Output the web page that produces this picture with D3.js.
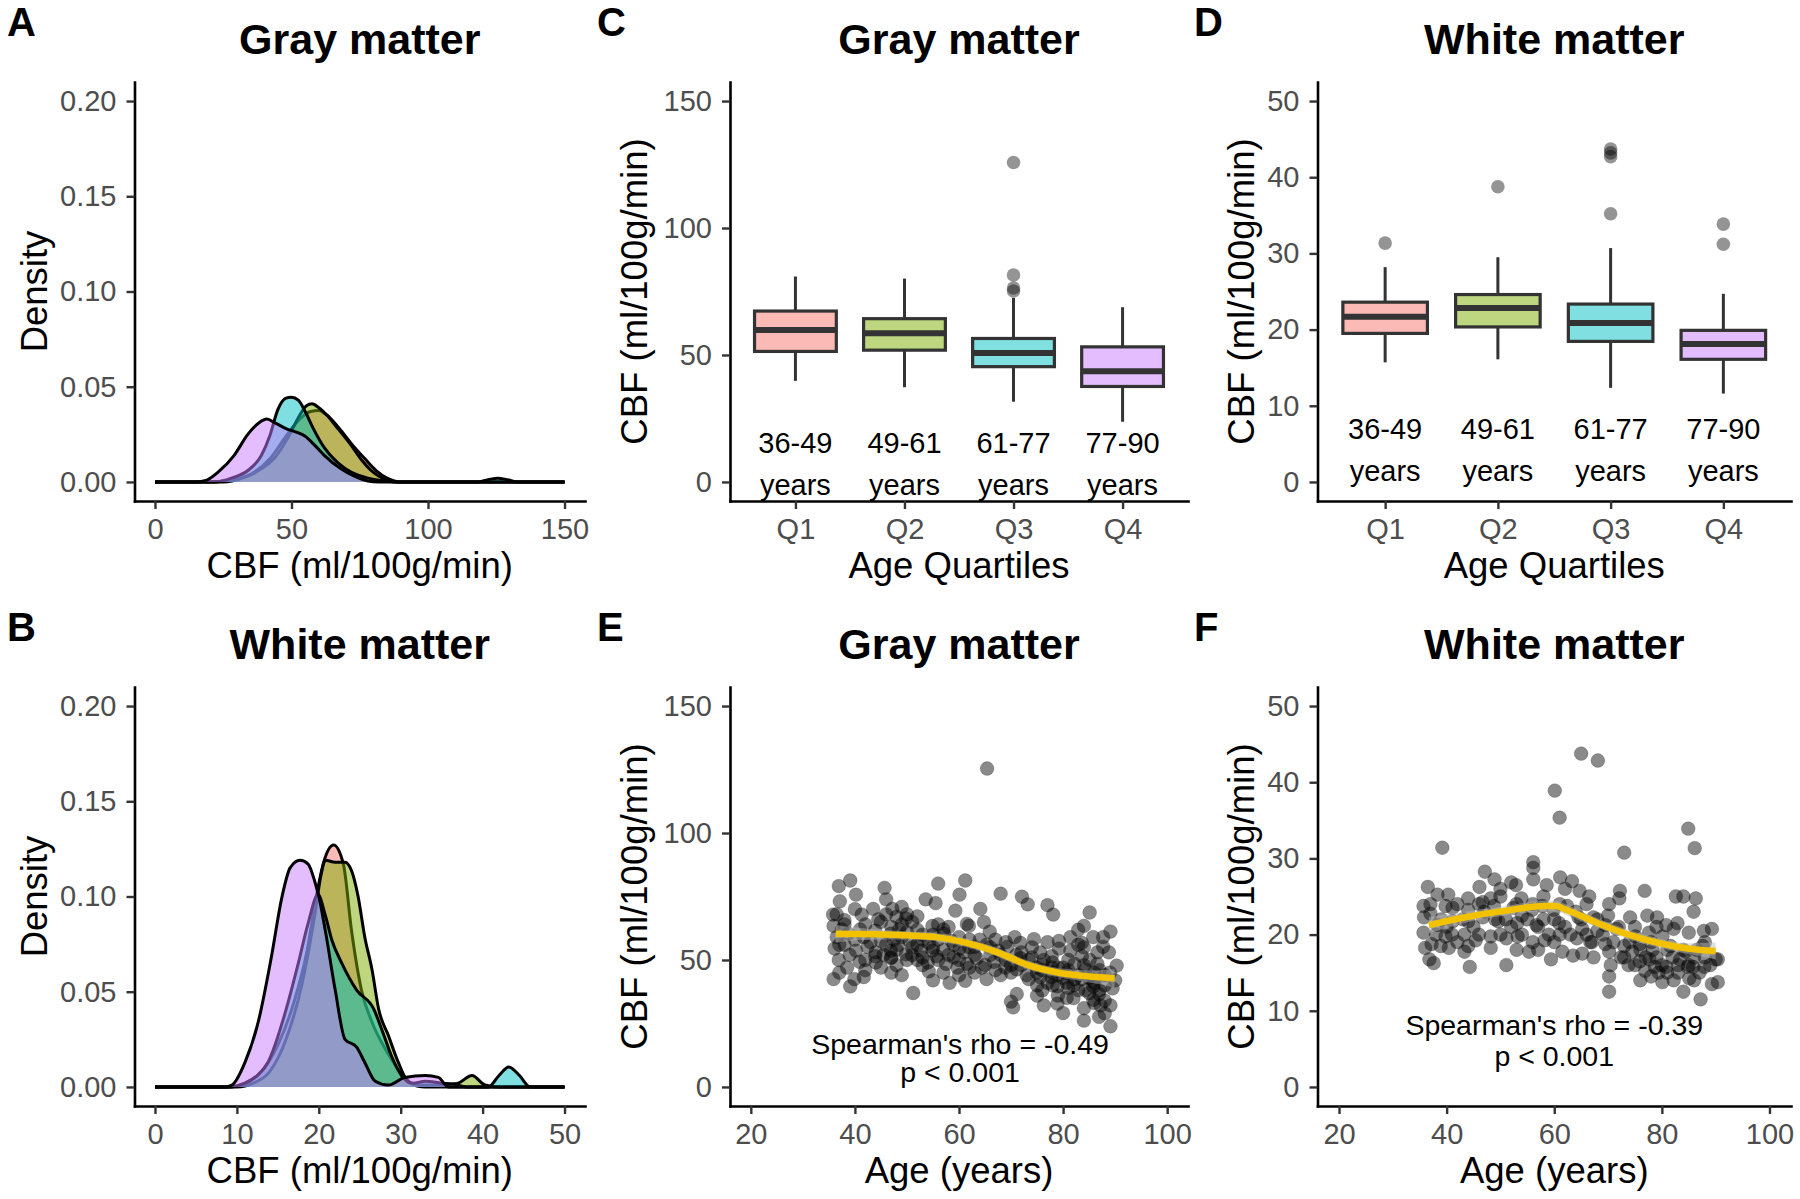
<!DOCTYPE html>
<html>
<head>
<meta charset="utf-8">
<script src="https://cdn.jsdelivr.net/npm/d3@7"></script>
<style>
body{margin:0;background:#fff}
svg{display:block}
text{font-family:"Liberation Sans",Arial,Helvetica,sans-serif}
</style>
</head>
<body>
<div id="fig"></div>
<script>
const groups = ["Q1", "Q2", "Q3", "Q4"]
const groupColors = ["#F8766D", "#7CAE00", "#00BFC4", "#C77CFF"]
const ageLabels = ["36-49", "49-61", "61-77", "77-90"]

// A: gray matter density, [CBF, density]
const gmDensQ1 = [[0,0],[20,0],[28,0.001],[35,0.004],[42,0.012],[48,0.024],[53,0.033],[57,0.037],[60,0.0375],[63,0.035],[67,0.029],[72,0.020],[77,0.012],[81,0.006],[85,0.002],[90,0],[150,0]]
const gmDensQ2 = [[0,0],[25,0],[32,0.002],[38,0.006],[44,0.013],[49,0.024],[53,0.035],[55.5,0.040],[57.5,0.041],[60,0.039],[63,0.035],[67,0.028],[72,0.019],[76,0.011],[80,0.005],[84,0.0015],[88,0],[150,0]]
const gmDensQ3 = [[0,0],[22,0],[28,0.002],[34,0.006],[39,0.014],[42,0.024],[45,0.038],[48,0.044],[50,0.0445],[52.5,0.043],[55,0.037],[58,0.028],[62,0.018],[67,0.010],[72,0.005],[78,0.002],[84,0.0005],[90,0],[118,0],[122,0.0012],[125.5,0.002],[129,0.0012],[133,0],[150,0]]
const gmDensQ4 = [[0,0],[15,0],[19,0.001],[23,0.005],[29,0.014],[34,0.025],[38,0.031],[41,0.033],[44,0.031],[48,0.028],[52,0.026],[55,0.024],[58,0.020],[62,0.014],[68,0.007],[73,0.003],[78,0.0005],[82,0],[150,0]]

// B: white matter density
const wmDensQ1 = [[0,0],[9,0],[11,0.002],[13,0.008],[15,0.022],[17,0.045],[18.5,0.070],[19.7,0.100],[20.6,0.118],[21.8,0.127],[23,0.117],[24,0.082],[25.2,0.051],[26.5,0.034],[28.1,0.020],[29.7,0.009],[31,0.002],[33,0],[50,0]]
const wmDensQ2 = [[0,0],[10,0],[12,0.002],[14,0.008],[16,0.025],[18,0.055],[19.5,0.09],[20.3,0.112],[20.8,0.119],[22,0.118],[23.2,0.118],[24,0.1135],[24.8,0.100],[25.6,0.079],[26.5,0.0615],[27.3,0.041],[28.5,0.027],[29.7,0.013],[30.7,0.004],[32,0.001],[35,0.001],[37,0.002],[38.7,0.006],[40.3,0.001],[42,0],[50,0]]
const wmDensQ3 = [[0,0],[9,0],[11,0.002],[12.5,0.006],[13.8,0.013],[15.9,0.039],[17.5,0.065],[18.7,0.086],[19.9,0.101],[20.8,0.090],[21.6,0.077],[22.8,0.065],[24.6,0.051],[26.7,0.041],[27.7,0.030],[28.9,0.016],[30.1,0.006],[31.5,0.002],[33,0.003],[35,0.002],[36.5,0.0015],[38,0],[40.7,0],[42,0.006],[43.2,0.0105],[44.5,0.006],[45.8,0],[50,0]]
const wmDensQ4 = [[0,0],[8.5,0],[9.4,0.001],[11,0.013],[12.6,0.034],[14.2,0.068],[15.5,0.0997],[16.5,0.115],[17.7,0.119],[18.7,0.117],[19.5,0.108],[20,0.100],[20.8,0.082],[22,0.051],[23.2,0.025],[24.6,0.021],[25.6,0.013],[26.9,0.003],[28.5,0.001],[30.5,0.005],[33,0.006],[34.6,0.005],[35.8,0],[50,0]]

// C: gray matter boxplots
const gmWhiskLow = [39.8, 37.3, 31.6, 23.7]
const gmQ25 = [51.4, 51.9, 45.4, 37.6]
const gmMedian = [59.8, 58.6, 50.8, 43.6]
const gmQ75 = [67.3, 64.3, 56.5, 53.2]
const gmWhiskHigh = [80.9, 80.1, 72.5, 68.8]
const gmOutliers = [["Q3",125.8],["Q3",81.5],["Q3",76.4],["Q3",75.2]]

// D: white matter boxplots
const wmWhiskLow = [15.7, 16.1, 12.35, 11.6]
const wmQ25 = [19.5, 20.35, 18.45, 16.1]
const wmMedian = [21.7, 22.85, 20.85, 18.1]
const wmQ75 = [23.6, 24.6, 23.35, 19.9]
const wmWhiskHigh = [28.2, 29.5, 30.7, 24.7]
const wmOutliers = [["Q1",31.35],["Q2",38.75],["Q3",43.7],["Q3",43.2],["Q3",42.7],["Q3",35.2],["Q4",33.85],["Q4",31.2]]

// E: gray matter CBF vs age, [age, CBF]
const gmPoints = [[65.4,125.4],[39.1,81.3],[36.9,79.1],[45.7,78.4],[56.0,80.1],[61.2,81.3],[60.1,75.7],[68.0,76.1],[72.1,74.9],[73.2,71.9],[40.2,75.7],[37.1,73.1],[46.0,73.9],[53.6,73.9],[55.5,72.4],[64.1,70.1],[77.0,71.6],[78.1,67.9],[85.1,68.7],[84.0,63.4],[89.1,61.2],[35.8,67.9],[38.0,65.7],[41.3,67.9],[43.5,70.1],[47.2,70.1],[49.0,70.9],[49.8,66.4],[52.0,67.2],[59.3,69.4],[61.5,64.2],[64.8,64.9],[65.9,61.2],[35.9,63.4],[38.7,60.4],[41.7,59.0],[43.9,61.6],[46.9,60.4],[52.0,61.9],[54.9,63.4],[57.1,60.4],[61.9,63.4],[70.7,59.0],[71.8,56.7],[74.4,58.2],[77.0,57.0],[79.2,57.5],[81.4,59.0],[82.9,61.9],[83.6,56.7],[85.8,59.0],[87.7,55.2],[86.6,53.0],[88.8,53.0],[90.3,47.8],[89.5,38.8],[89.1,32.1],[89.1,23.9],[86.9,27.6],[84.0,26.1],[87.2,32.1],[85.8,34.3],[84.3,38.1],[82.9,38.1],[80.7,35.1],[80.0,29.1],[78.9,32.8],[76.3,32.1],[80.7,41.0],[77.8,43.3],[75.6,43.3],[73.4,42.5],[71.1,36.6],[70.0,33.6],[70.4,31.3],[65.3,42.5],[61.2,41.8],[58.2,41.0],[54.2,45.5],[51.2,37.0],[41.7,43.3],[39.1,39.6],[39.9,42.5],[35.9,42.5],[36.9,50.0],[40.9,49.3],[43.9,51.5],[46.9,50.7],[49.8,52.2],[52.7,53.7],[55.7,51.5],[57.5,48.5],[59.7,47.0],[61.5,48.5],[63.4,50.7],[66.7,49.3],[68.9,47.0],[71.1,46.3],[73.4,50.0],[75.6,53.0],[77.8,51.5],[80.0,47.0],[82.2,48.5],[84.3,46.3],[82.2,42.5],[85.8,41.8],[88.0,44.0],[78.9,39.6],[48.3,56.0],[50.5,57.5],[54.2,56.7],[58.6,57.5],[60.1,54.5],[63.0,55.2],[65.3,56.0],[67.5,53.7],[69.3,55.2],[38.0,56.0],[40.2,53.7],[42.4,55.2],[45.0,57.5],[36.1,54.5],[36.5,59.0],[46.9,53.7],[52.0,50.0],[54.9,53.7],[64.4,47.0],[71.8,50.7],[79.2,54.5],[81.4,53.7],[83.6,51.5],[85.1,50.0],[86.6,48.5],[87.7,59.0],[82.9,56.0],[76.3,50.0],[74.9,47.0],[77.8,47.0],[80.7,44.8],[83.6,42.5],[85.8,39.6],[86.9,36.6],[37.5,62],[38.5,47],[44,49],[45.5,52],[47.5,58],[48.5,62],[49,64],[50,68],[51,55],[53,48],[55,60],[56,64],[57,54],[59,51],[62,58],[63,45],[66,52],[67,58],[68,44],[69,50],[72,53],[74,55],[76,46],[78,49],[79,44],[81,50],[84,55],[86,45],[87,38],[88,34],[36.5,68],[37,45],[42,46],[44.5,66],[48,48],[53,58],[58,63],[60,59],[70,48],[75,40],[39,52],[40,58],[41,62],[42,50],[43,57],[44,53],[45,47],[46,56],[47,51],[47,63],[48,54],[49,59],[50,50],[50,61],[51,52],[51,65],[52,56],[53,51],[53,60],[54,49],[55,55],[56,50],[56,58],[57,62],[58,52],[59,56],[60,50],[61,53],[62,47],[62,55],[63,52],[64,58],[65,48],[66,55],[67,46],[68,52],[69,57],[70,45],[71,52],[72,48],[73,44],[74,51],[75,45],[76,48],[77,41],[78,45],[79,47],[80,43],[81,46],[82,40],[83,44],[84,48],[85,43],[86,41],[87,46],[88,40],[89,45],[90,42],[76,38],[79,36],[82,35],[84,31],[86,33],[88,29],[85,37],[81,39],[78,40],[75,36],[47,45],[49,44],[55,42],[57,45],[60,44],[37,56],[38,64],[40,70],[42,64],[45,65],[46,68],[48,67]]
const gmSmooth = [[36.3,60.3],[42,60.2],[49.8,59.7],[55.7,59.0],[61.5,56.7],[67.4,53.0],[73.3,48.0],[79.2,45.0],[85.1,43.5],[89.9,42.8]]
const gmSmoothSe = [3.5, 2.2, 1.6, 1.6, 1.7, 1.7, 1.7, 1.8, 2.4, 3.6]
const gmRho = ["Spearman's rho = -0.49", "p < 0.001"]

// F: white matter CBF vs age
const wmPoints = [[65.0,43.75],[68.1,42.85],[60.1,38.9],[61.0,35.35],[39.2,31.4],[84.9,33.9],[86.1,31.35],[73.0,30.75],[56.1,29.5],[56.1,28.75],[47.1,28.25],[48.9,27.25],[52.0,26.85],[52.9,26.5],[56.1,27.25],[61.1,27.5],[63.3,27.0],[64.7,25.75],[66.5,25.0],[58.6,26.5],[36.5,26.25],[38.3,25.25],[40.3,25.25],[46.1,26.25],[50.0,26.0],[44.0,24.75],[48.2,24.75],[53.9,24.75],[72.2,25.75],[72.1,24.75],[76.8,25.75],[82.6,25.0],[84.0,25.0],[86.3,24.75],[85.9,23.0],[70.2,24.0],[74.1,22.25],[77.3,22.5],[79.1,22.25],[80.8,21.25],[82.9,21.5],[35.7,23.75],[37.0,22.75],[39.8,23.75],[41.1,23.5],[44.0,23.25],[46.7,24.25],[48.8,23.75],[52.4,23.5],[55.9,23.25],[57.8,23.75],[59.9,23.25],[62.4,23.75],[64.5,22.25],[67.3,22.25],[69.5,21.25],[35.8,22.25],[38.3,21.25],[41.1,21.75],[44.0,21.75],[46.7,22.25],[49.6,21.75],[53.1,21.5],[56.7,21.25],[60.9,21.5],[65.2,20.75],[68.0,20.5],[71.6,20.75],[75.1,19.75],[77.6,20.25],[80.1,19.75],[82.2,20.75],[85.0,20.25],[87.8,20.5],[89.3,20.75],[87.6,18.5],[35.7,20.25],[37.2,18.75],[39.8,19.75],[43.3,20.0],[45.4,19.25],[48.2,19.75],[51.1,19.5],[53.2,19.75],[56.0,19.0],[58.2,19.25],[61.0,20.0],[64.2,19.5],[66.7,19.0],[69.5,18.75],[73.0,18.5],[75.9,18.75],[78.3,18.0],[81.6,18.5],[84.4,17.75],[86.5,18.0],[90.4,16.75],[36.0,18.25],[36.8,16.75],[37.6,16.25],[38.9,18.5],[40.4,18.25],[44.3,15.75],[51.1,16.0],[59.4,16.75],[61.5,17.75],[65.2,17.5],[67.3,17.0],[70.2,17.75],[70.5,16.0],[70.2,14.5],[70.2,12.5],[73.8,16.0],[75.9,16.5],[76.9,15.25],[78.7,15.75],[79.4,15.0],[80.8,15.75],[82.2,14.0],[84.0,12.5],[85.1,14.25],[85.8,15.75],[87.2,11.5],[87.9,15.75],[89.3,13.5],[90.4,13.75],[90.0,16.75],[72.4,17.0],[77.7,16.75],[83.4,16.75],[84.8,15.75],[80.1,13.75],[74.5,17.75],[43.3,17.75],[48.2,18.25],[55.3,17.75],[63.5,17.25],[38,20],[40,21],[42,19],[43,22],[45,21],[46,20],[47,23],[49,22],[50,20],[51,22],[52,21],[53,24],[54,20],[55,22],[56,24],[57,21],[58,22],[59,20],[60,22],[61,24],[62,21],[63,20],[64,23],[65,22],[66,20],[67,19],[68,22],[69,20],[71,19],[72,21],[73,17],[74,19],[75,16],[76,18],[77,17],[78,19],[79,17],[80,16],[81,18],[82,17],[83,15],[84,18],[85,16],[86,17],[87,15],[88,17],[89,16],[76,14],[78,14.5],[81,15],[83,16],[86,14],[88,19],[79,21],[75,21],[37,24],[39,22],[41,20],[42,24],[44,18.5],[46,24],[50,25],[54,22.5],[58,25],[62,26],[66,24],[70,22.5],[60,19],[57,18],[53,18]]
const wmSmooth = [[36.7,21.25],[44,22.35],[51.1,23.15],[58.2,23.75],[60.2,23.75],[62.4,23.2],[68.1,21.5],[73.8,20.0],[79.4,18.9],[85.1,18.15],[90,17.85]]
const wmSmoothSe = [1.1, 0.7, 0.6, 0.7, 0.7, 0.7, 0.6, 0.6, 0.6, 0.7, 1.1]
const wmRho = ["Spearman's rho = -0.39", "p < 0.001"]

const gmDens = [gmDensQ1, gmDensQ2, gmDensQ3, gmDensQ4]
const wmDens = [wmDensQ1, wmDensQ2, wmDensQ3, wmDensQ4]

// layout
const W = 1800, H = 1199
const cols = [[134.5, 585], [730, 1188], [1317.5, 1791]]
const rows = [[82, 501], [687, 1106]]
const yTitleX = [34, 634, 1241]
const letterX = [7, 597, 1194]

const svg = d3.select("#fig").append("svg")
    .attr("width", W)
    .attr("height", H)
    .attr("viewBox", `0 0 ${W} ${H}`)

function frame(col, row, title, letter, xTitle, yTitle){
    const [l, r] = cols[col]
    const [t, b] = rows[row]
    const cx = (l + r) / 2
    svg.append("text").attr("x", letterX[col]).attr("y", t - 46)
        .attr("font-size", 40).attr("font-weight", "bold").text(letter)
    svg.append("text").attr("x", cx).attr("y", t - 28.5)
        .attr("text-anchor", "middle").attr("font-size", 43).attr("font-weight", "bold").text(title)
    svg.append("text").attr("x", cx).attr("y", b + 77)
        .attr("text-anchor", "middle").attr("font-size", 36.5).text(xTitle)
    svg.append("text")
        .attr("transform", `translate(${yTitleX[col]},${(t + b) / 2}) rotate(-90)`)
        .attr("dy", "0.36em")
        .attr("text-anchor", "middle").attr("font-size", 36.5).text(yTitle)
    return {l, r, t, b}
}

function drawAxes(p, x, y, xTicks, yTicks, xFmt, yFmt){
    const gx = svg.append("g").attr("transform", `translate(0,${p.b})`)
        .call(d3.axisBottom(x).tickValues(xTicks).tickSize(8).tickSizeOuter(0).tickPadding(9.5).tickFormat(xFmt))
    const gy = svg.append("g").attr("transform", `translate(${p.l},0)`)
        .call(d3.axisLeft(y).tickValues(yTicks).tickSize(8).tickSizeOuter(0).tickPadding(10).tickFormat(yFmt))
    ;[gx, gy].forEach(g => {
        g.attr("font-family", null).attr("font-size", null)
        g.select(".domain").attr("stroke", "#000").attr("stroke-width", 2.6).attr("stroke-linecap", "square")
        g.selectAll(".tick line").attr("stroke", "#333").attr("stroke-width", 2.4)
        g.selectAll(".tick text").attr("fill", "#4D4D4D").attr("font-size", 29)
    })
}

function densityPanel(col, row, title, letter, curves, xMax, xTicks){
    const p = frame(col, row, title, letter, "CBF (ml/100g/min)", "Density")
    const x = d3.scaleLinear().domain([-0.05 * xMax, 1.05 * xMax]).range([p.l, p.r])
    const y = d3.scaleLinear().domain([-0.01, 0.21]).range([p.b, p.t])
    const area = d3.area().x(d => x(d[0])).y0(y(0)).y1(d => y(d[1])).curve(d3.curveMonotoneX)
    const line = d3.line().x(d => x(d[0])).y(d => y(d[1])).curve(d3.curveMonotoneX)
    curves.forEach((c, i) => {
        const g = svg.append("g")
        g.append("path").attr("d", area(c)).attr("fill", groupColors[i]).attr("fill-opacity", 0.5)
        g.append("path").attr("d", line(c)).attr("fill", "none").attr("stroke", "#000")
            .attr("stroke-width", 3).attr("stroke-linejoin", "round")
    })
    drawAxes(p, x, y, xTicks, [0, 0.05, 0.1, 0.15, 0.2], d3.format("d"), d3.format(".2f"))
}

function boxPanel(col, row, title, letter, lo, q25, med, q75, hi, outliers, yMax, yTicks, labelY, lineGap){
    const p = frame(col, row, title, letter, "Age Quartiles", "CBF (ml/100g/min)")
    const x = d3.scalePoint().domain(groups).range([p.l, p.r]).padding(0.6)
    const y = d3.scaleLinear().domain([-0.05 * yMax, 1.05 * yMax]).range([p.b, p.t])
    const bw = x.step() * 0.75
    svg.append("g").selectAll("circle").data(outliers).enter().append("circle")
        .attr("cx", d => x(d[0])).attr("cy", d => y(d[1])).attr("r", 6.8)
        .attr("fill", "#000").attr("fill-opacity", 0.42)
    groups.forEach((gname, i) => {
        const g = svg.append("g")
        const cx = x(gname)
        g.append("line").attr("x1", cx).attr("x2", cx).attr("y1", y(hi[i])).attr("y2", y(q75[i]))
            .attr("stroke", "#333").attr("stroke-width", 3)
        g.append("line").attr("x1", cx).attr("x2", cx).attr("y1", y(q25[i])).attr("y2", y(lo[i]))
            .attr("stroke", "#333").attr("stroke-width", 3)
        g.append("rect").attr("x", cx - bw / 2).attr("width", bw)
            .attr("y", y(q75[i])).attr("height", y(q25[i]) - y(q75[i]))
            .attr("fill", groupColors[i]).attr("fill-opacity", 0.5)
            .attr("stroke", "#333").attr("stroke-width", 3.2)
        g.append("line").attr("x1", cx - bw / 2).attr("x2", cx + bw / 2)
            .attr("y1", y(med[i])).attr("y2", y(med[i]))
            .attr("stroke", "#333").attr("stroke-width", 6)
        const t = g.append("text").attr("x", cx).attr("y", y(labelY))
            .attr("text-anchor", "middle").attr("font-size", 29).attr("fill", "#000")
        t.append("tspan").attr("x", cx).text(ageLabels[i])
        t.append("tspan").attr("x", cx).attr("dy", lineGap).text("years")
    })
    drawAxes(p, x, y, groups, yTicks, d => d, d3.format("d"))
}

function scatterPanel(col, row, title, letter, points, smooth, se, yMax, yTicks, rho, rhoAge, rhoY, lineGap){
    const p = frame(col, row, title, letter, "Age (years)", "CBF (ml/100g/min)")
    const x = d3.scaleLinear().domain([16, 104]).range([p.l, p.r])
    const y = d3.scaleLinear().domain([-0.05 * yMax, 1.05 * yMax]).range([p.b, p.t])
    svg.append("g").selectAll("circle").data(points).enter().append("circle")
        .attr("cx", d => x(d[0])).attr("cy", d => y(d[1])).attr("r", 6.9)
        .attr("fill", "#000").attr("fill-opacity", 0.46)
        .attr("stroke", "#000").attr("stroke-opacity", 0.18).attr("stroke-width", 1)
    const band = d3.area().x(d => x(d[0])).y0((d, i) => y(d[1] - se[i])).y1((d, i) => y(d[1] + se[i]))
        .curve(d3.curveMonotoneX)
    svg.append("path").attr("d", band(smooth)).attr("fill", "#bdbdbd").attr("fill-opacity", 0.45)
    const line = d3.line().x(d => x(d[0])).y(d => y(d[1])).curve(d3.curveMonotoneX)
    svg.append("path").attr("d", line(smooth)).attr("fill", "none")
        .attr("stroke", "#F2C200").attr("stroke-width", 6.5).attr("stroke-linecap", "butt")
    const t = svg.append("text").attr("x", x(rhoAge)).attr("y", y(rhoY))
        .attr("text-anchor", "middle").attr("font-size", 28.5).attr("fill", "#000")
    t.append("tspan").attr("x", x(rhoAge)).text(rho[0])
    t.append("tspan").attr("x", x(rhoAge)).attr("dy", lineGap).text(rho[1])
    drawAxes(p, x, y, [20, 40, 60, 80, 100], yTicks, d3.format("d"), d3.format("d"))
}

densityPanel(0, 0, "Gray matter", "A", gmDens, 150, [0, 50, 100, 150])
densityPanel(0, 1, "White matter", "B", wmDens, 50, [0, 10, 20, 30, 40, 50])
boxPanel(1, 0, "Gray matter", "C", gmWhiskLow, gmQ25, gmMedian, gmQ75, gmWhiskHigh, gmOutliers,
    150, [0, 50, 100, 150], 11.3, 42)
boxPanel(2, 0, "White matter", "D", wmWhiskLow, wmQ25, wmMedian, wmQ75, wmWhiskHigh, wmOutliers,
    50, [0, 10, 20, 30, 40, 50], 5.6, 41.5)
scatterPanel(1, 1, "Gray matter", "E", gmPoints, gmSmooth, gmSmoothSe, 150, [0, 50, 100, 150],
    gmRho, 60.2, 12.9, 28)
scatterPanel(2, 1, "White matter", "F", wmPoints, wmSmooth, wmSmoothSe, 50, [0, 10, 20, 30, 40, 50],
    wmRho, 60, 6.8, 30.5)
</script>
</body>
</html>
